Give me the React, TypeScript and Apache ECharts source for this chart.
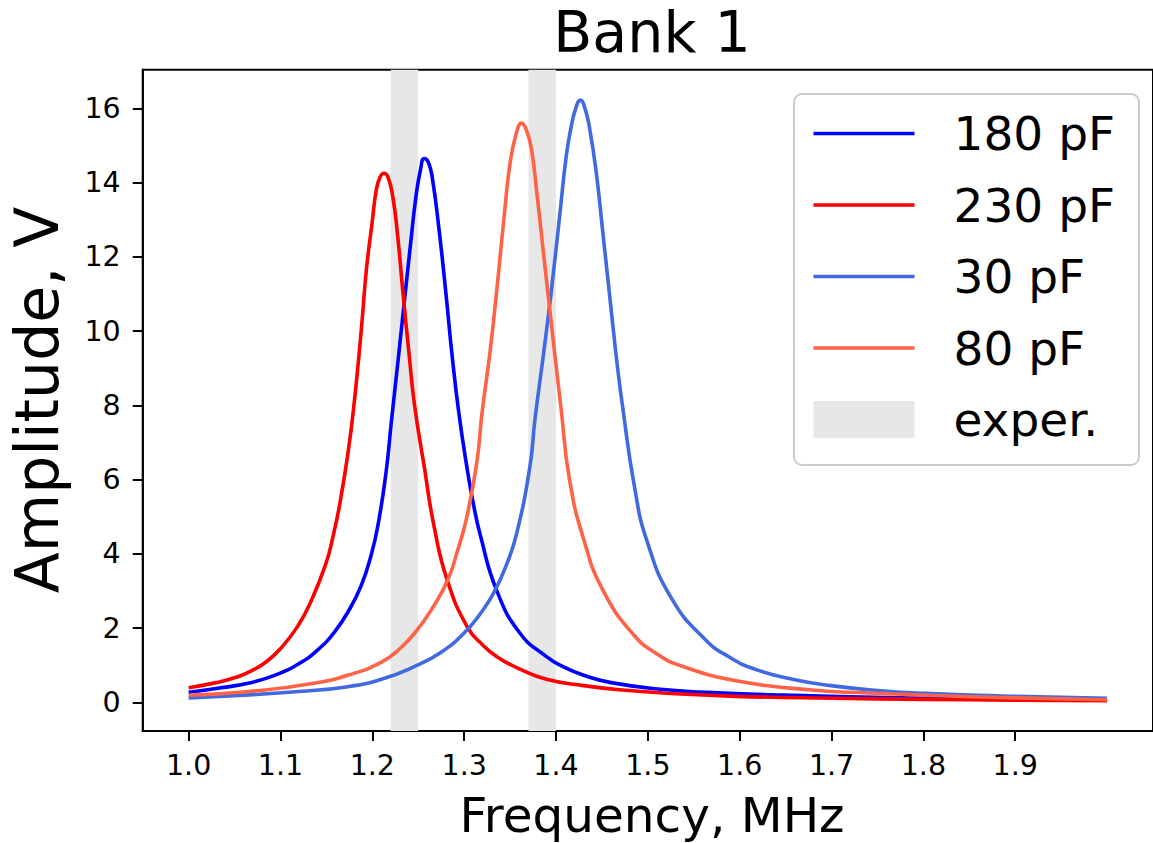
import React, { useEffect, useRef } from "react";
import * as echarts from "echarts";

const FONT = "DejaVu Sans";

const seriesNames = ["180 pF", "230 pF", "30 pF", "80 pF"];
const seriesColors = ["#0000ff", "#ff0000", "#4169e1", "#ff6347"];
const bandName = "exper.";
const bandRanges: [number, number][] = [
  [1.22, 1.25],
  [1.37, 1.4],
];
const xTicks = [1.0, 1.1, 1.2, 1.3, 1.4, 1.5, 1.6, 1.7, 1.8, 1.9];
const yTicks = [0, 2, 4, 6, 8, 10, 12, 14, 16];

const pf180: [number, number][] = [
  [1.0, 0.27], [1.03, 0.37], [1.066, 0.52], [1.095, 0.74], [1.12, 1.04],
  [1.14, 1.4], [1.159, 1.9], [1.175, 2.5], [1.188, 3.15], [1.198, 3.9],
  [1.206, 4.75], [1.215, 6.2], [1.2205, 7.5], [1.2277, 9.13], [1.2349, 10.8],
  [1.2421, 12.45], [1.2475, 13.62], [1.2525, 14.35], [1.2565, 14.65],
  [1.261, 14.55], [1.2655, 14.1], [1.2727, 12.72], [1.2798, 11.1],
  [1.287, 9.31], [1.2943, 7.78], [1.3032, 6.3], [1.31, 5.35], [1.3176, 4.5],
  [1.3356, 3.0], [1.3608, 1.86], [1.3896, 1.23], [1.4076, 0.96],
  [1.4309, 0.72], [1.46, 0.53], [1.5134, 0.35], [1.57, 0.26], [1.6373, 0.2],
  [1.72, 0.15], [1.8, 0.11], [1.9, 0.08], [2.0, 0.06],
];

const pf230: [number, number][] = [
  [1.0, 0.39], [1.03, 0.53], [1.05, 0.66], [1.066, 0.82], [1.085, 1.1],
  [1.102, 1.5], [1.118, 2.02], [1.131, 2.6], [1.149, 3.7], [1.158, 4.55],
  [1.165, 5.4], [1.174, 6.8], [1.18, 8.0], [1.188, 10.03], [1.1935, 11.64],
  [1.1997, 12.9], [1.2043, 13.8], [1.2085, 14.15], [1.2126, 14.25],
  [1.217, 14.15], [1.2223, 13.62], [1.2277, 12.54], [1.2331, 11.1],
  [1.2403, 9.31], [1.246, 8.0], [1.2565, 6.35], [1.2673, 4.73],
  [1.2816, 3.29], [1.3032, 2.04], [1.32, 1.55], [1.3356, 1.23], [1.36, 0.9],
  [1.3896, 0.62], [1.43, 0.45], [1.4721, 0.33], [1.53, 0.23], [1.596, 0.16],
  [1.7, 0.11], [1.8, 0.08], [1.9, 0.06], [2.0, 0.04],
];

const pf30: [number, number][] = [
  [1.0, 0.12], [1.066, 0.2], [1.12, 0.29], [1.1737, 0.42], [1.21, 0.62],
  [1.2457, 0.96], [1.275, 1.35], [1.2997, 1.86], [1.318, 2.4], [1.332, 2.94],
  [1.346, 3.7], [1.3572, 4.55], [1.3716, 6.35], [1.377, 7.6], [1.386, 9.31],
  [1.395, 11.1], [1.4039, 13.08], [1.4111, 14.7], [1.4165, 15.5],
  [1.4215, 16.0], [1.4266, 16.22], [1.4315, 16.0], [1.4363, 15.5],
  [1.4435, 14.34], [1.4507, 12.72], [1.4597, 10.66], [1.4669, 9.04],
  [1.4723, 8.0], [1.4855, 5.8], [1.499, 4.35], [1.5258, 2.8], [1.563, 1.68],
  [1.59, 1.2], [1.6167, 0.89], [1.66, 0.61], [1.6993, 0.45], [1.75, 0.32],
  [1.8025, 0.24], [1.9, 0.16], [2.0, 0.11],
];

const pf80: [number, number][] = [
  [1.0, 0.19], [1.066, 0.29], [1.138, 0.52], [1.18, 0.78], [1.21, 1.08],
  [1.228, 1.4], [1.246, 1.86], [1.265, 2.52], [1.282, 3.29], [1.293, 4.1],
  [1.303, 5.0], [1.314, 6.5], [1.3194, 7.78], [1.3284, 9.49], [1.3374, 11.56],
  [1.3446, 13.35], [1.35, 14.52], [1.3565, 15.3], [1.3626, 15.6],
  [1.368, 15.4], [1.3734, 14.88], [1.3788, 13.8], [1.386, 12.18],
  [1.3949, 10.21], [1.4057, 7.87], [1.4147, 6.0], [1.43, 4.4],
  [1.4515, 3.0], [1.4845, 1.82], [1.51, 1.3], [1.5342, 1.0], [1.596, 0.58],
  [1.6787, 0.33], [1.74, 0.25], [1.8025, 0.19], [1.9, 0.12], [2.0, 0.07],
];

const seriesData = [pf180, pf230, pf30, pf80];

export default function App() {
  const ref = useRef<HTMLDivElement>(null);
  useEffect(() => {
    if (!ref.current) return;
    const chart = echarts.init(ref.current, undefined, { renderer: "svg" });
    const lineSeries = seriesNames.map((name, i) => ({
      name,
      type: "line",
      data: seriesData[i],
      showSymbol: false,
      symbol: "none",
      smooth: 0.5,
      color: seriesColors[i],
      lineStyle: { width: 3.6, color: seriesColors[i] },
      z: 3,
    }));
    chart.setOption({
      animation: false,
      backgroundColor: "#ffffff",
      grid: {
        left: 142.7,
        right: -9,
        top: 69.7,
        bottom: 112,
        show: true,
        borderColor: "#000",
        borderWidth: 2,
        backgroundColor: "transparent",
      },
      xAxis: {
        type: "value",
        min: 0.95,
        max: 2.05,
        splitLine: { show: false },
        axisLine: { show: true, onZero: false, lineStyle: { color: "#000", width: 2 } },
        axisTick: {
          show: true,
          length: 10,
          inside: false,
          customValues: xTicks,
          lineStyle: { color: "#000", width: 2 },
        },
        axisLabel: {
          customValues: xTicks,
          formatter: (v: number) => v.toFixed(1),
          fontSize: 28.5,
          fontFamily: FONT,
          color: "#000",
          margin: 20,
        },
      },
      yAxis: {
        type: "value",
        min: -0.773,
        max: 17.04,
        splitLine: { show: false },
        axisLine: { show: true, onZero: false, lineStyle: { color: "#000", width: 2 } },
        axisTick: {
          show: true,
          length: 10,
          inside: false,
          customValues: yTicks,
          lineStyle: { color: "#000", width: 2 },
        },
        axisLabel: {
          customValues: yTicks,
          formatter: (v: number) => String(Math.round(v)),
          fontSize: 28.5,
          fontFamily: FONT,
          color: "#000",
          margin: 22,
        },
      },
      legend: {
        orient: "vertical",
        left: 794,
        top: 94,
        padding: [16, 24, 22, 17.7],
        itemWidth: 101,
        itemHeight: 37,
        itemGap: 24.5,
        selectedMode: false,
        backgroundColor: "#ffffff",
        borderColor: "#cccccc",
        borderWidth: 2,
        borderRadius: 8,
        textStyle: {
          fontSize: 47,
          fontFamily: FONT,
          color: "#000",
          lineHeight: 47,
          padding: [0, 0, 0, 34],
        },
        data: [
          ...seriesNames.map((name, i) => ({
            name,
            itemStyle: { opacity: 0 },
            lineStyle: { width: 3.6, color: seriesColors[i], opacity: 1 },
          })),
          { name: bandName, icon: "rect", itemStyle: { color: "#e7e7e7" } },
        ],
      },
      graphic: [
        {
          type: "text",
          x: 652,
          y: 31.5,
          style: {
            text: "Bank 1",
            fontSize: 57,
            lineHeight: 46,
            fontFamily: FONT,
            fill: "#000",
            align: "center",
            verticalAlign: "middle",
          },
        },
        {
          type: "text",
          x: 652,
          y: 815,
          style: {
            text: "Frequency, MHz",
            fontSize: 48.5,
            fontFamily: FONT,
            fill: "#000",
            align: "center",
            verticalAlign: "middle",
          },
        },
        {
          type: "text",
          x: 36.7,
          y: 400,
          rotation: Math.PI / 2,
          style: {
            text: "Amplitude, V",
            fontSize: 60,
            fontFamily: FONT,
            fill: "#000",
            align: "center",
            verticalAlign: "middle",
          },
        },
      ],
      series: [
        {
          name: bandName,
          type: "line",
          data: [],
          color: "#e7e7e7",
          itemStyle: { color: "#e7e7e7" },
          z: 1,
          markArea: {
            silent: true,
            itemStyle: { color: "#e7e7e7" },
            data: bandRanges.map(([a, b]) => [{ xAxis: a }, { xAxis: b }]),
          },
        },
        ...lineSeries,
      ],
    });
    return () => chart.dispose();
  }, []);
  return (
    <div
      ref={ref}
      style={{ position: "absolute", left: 0, top: 0, width: 1153, height: 843 }}
    />
  );
}
